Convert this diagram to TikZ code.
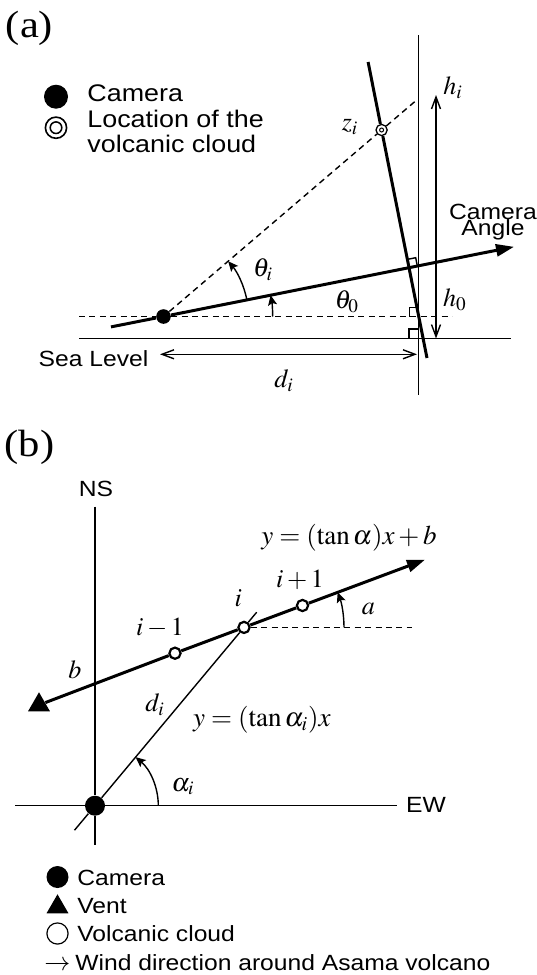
\documentclass[tikz,border=0pt]{standalone}
\usepackage{mathptmx}
\usepackage[no-math]{fontspec}
\setsansfont{Liberation Sans}[FakeStretch=1.12]
\newfontfamily\tagfont{Liberation Serif}[FakeStretch=1.12]
\usetikzlibrary{arrows.meta,shapes.geometric}
\tikzset{
  lbl/.style={font=\sffamily\fontsize{11}{13}\selectfont,inner sep=0pt},
  mth/.style={font=\fontsize{13}{15}\selectfont,inner sep=0pt},
  eqn/.style={font=\fontsize{13.5}{15}\selectfont,inner sep=0pt},
  tag/.style={font=\tagfont\fontsize{19}{21}\selectfont,inner sep=0pt},
  heavy/.style={line width=1.5pt},
  fine/.style={line width=0.7pt},
  dashln/.style={fine,dash pattern=on 3pt off 2.2pt},
  dimarr/.style={fine,{Straight Barb[length=6pt,width=4.5pt]}-{Straight Barb[length=6pt,width=4.5pt]}},
  angarr/.style={fine,-{Stealth[length=5pt,width=4.5pt,inset=1pt]}},
  dirarr/.style={heavy,-{Triangle[length=9pt,width=6pt]}},
  camdot/.style={circle,fill,inner sep=0pt,minimum size=#1},
  camdot/.default=7pt,
  cloud/.style={circle,draw,fill=white,line width=1.1pt,inner sep=0pt,minimum size=5.6pt},
  ring/.style={circle,draw,fill=white,inner sep=0pt},
  vent/.style={regular polygon,regular polygon sides=3,fill,inner sep=0pt,minimum size=12.7pt}
}
\begin{document}
\begin{tikzpicture}[x=0.5pt,y=-0.5pt]
  \useasboundingbox (0,0) rectangle (536,975);
  % (a) side view
  \node[tag] (ta) at (29.5,28) {(a)};
  \node[camdot=12pt] (ka) at (56,96.7) {};
  \node[lbl,anchor=base west,font=\sffamily\fontsize{12}{12.5}\selectfont] (kat) at (87,101.7) {Camera};
  \node[ring,line width=0.8pt,minimum size=10.6pt] (kb) at (56,127.7) {};
  \draw[line width=0.75pt] (kb) circle[radius=2.9pt];
  \node[lbl,anchor=west,align=left,font=\sffamily\fontsize{12}{12.5}\selectfont] (kbt) at (87,131.5) {Location of the\\volcanic cloud};

  \coordinate (vt) at (418.3,35);  \coordinate (vb) at (418.3,395);
  \coordinate (hl) at (79,316.5);  \coordinate (hr) at (452,316.5);
  \coordinate (sl) at (79,338.5);  \coordinate (sr) at (511,338.5);
  \coordinate (cl) at (111,326.9); \coordinate (cr) at (514,246.8);
  \coordinate (pt) at (368.1,62);  \coordinate (pb) at (427,358);
  \coordinate (de) at (417.5,99.3);
  \coordinate (ht) at (436,95);    \coordinate (hb) at (436,338.5);
  \coordinate (dl) at (160,354.3); \coordinate (dr) at (417,354.3);
  \node[camdot=7.3pt] (cam) at (163.5,316.5) {};
  \node[ring,line width=0.65pt,minimum size=5.6pt] (zi) at (381.6,130) {};
  \draw[line width=0.5pt] (zi) circle[radius=1pt];

  \draw[fine] (vt) -- (vb);
  \draw[fine] (sl) -- (sr);
  \draw[dashln] (hl) -- (cam) -- (hr);
  \draw[dashln] (cam) -- (zi) -- (de);
  \draw[dirarr] (cl) -- (cam) -- (cr);
  \draw[heavy] (pt) -- (zi) -- (pb);
  \draw[dimarr] (ht) -- (hb);
  \draw[dimarr] (dl) -- (dr);
  % right angles
  \draw[fine] (409.3,316.5) |- (418.3,307.5);
  \draw[fine] (408.8,338.5) |- (418.3,329);
  \draw[fine] (417.3,266.0) -- (415.7,257.7) -- (407.3,259.4);
  % angles
  \draw[angarr] (272.7,316.5) arc[start angle=0,end angle=-11.25,radius=109.2];
  \draw[angarr] (246.9,299.9) arc[start angle=-11.25,end angle=-40.5,radius=85];

  \node[mth] (thi) at (263,270) {$\theta_i$};
  \node[mth] (th0) at (347,301.7) {$\theta_0$};
  \node[mth] (zl) at (350,126.7) {$z_i$};
  \node[mth] (hil) at (453,88) {$h_i$};
  \node[mth] (h0l) at (455,300) {$h_0$};
  \node[mth] (dil) at (284,381) {$d_i$};
  \node[lbl] (sea) at (93.5,358.3) {Sea Level};
  \node[lbl,align=center,font=\sffamily\fontsize{11}{8.4}\selectfont] (cang) at (493,222) {Camera\\Angle};

  % (b) plan view
  \node[tag] (tb) at (29.5,447.5) {(b)};
  \node[lbl] (ns) at (96,489) {NS};
  \node[lbl] (ew) at (426,805) {EW};
  \coordinate (nt) at (95,506.7); \coordinate (nb) at (95,845);
  \coordinate (el) at (15,805.7); \coordinate (er) at (396.7,805.7);
  \coordinate (lo) at (74.5,830.2); \coordinate (hi) at (256.7,612.2);
  \coordinate (tip) at (425,559.7); \coordinate (dsh) at (411.7,627.4);
  \node[camdot=10pt] (org) at (95,805.7) {};
  \node[vent] (vnt) at (39,705) {};
  \node[cloud] (c1) at (175,653.2) {};
  \node[cloud] (ci) at (244,627.4) {};
  \node[cloud] (c2) at (302.5,605.5) {};

  \draw[fine] (nt) -- (org) -- (nb);
  \draw[fine] (el) -- (org) -- (er);
  \draw[fine] (lo) -- (org) -- (ci) -- (hi);
  \draw[dashln] (ci) -- (dsh);
  \draw[dirarr] (vnt) -- (c1) -- (ci) -- (c2) -- (tip);
  \draw[angarr] (344,627.4) arc[start angle=0,end angle=-20.5,radius=100];
  \draw[angarr] (158.3,805.7) arc[start angle=0,end angle=-50.1,radius=63.3];

  \node[eqn] (eq1) at (349,538) {$y=(\tan\alpha)x+b$};
  \node[eqn] (eq2) at (262,720) {$y=(\tan\alpha_i)x$};
  \node[mth] (bl) at (75,670) {$b$};
  \node[mth] (dil2) at (155,705) {$d_i$};
  \node[mth] (im) at (160,627.5) {$i-1$};
  \node[mth] (i0) at (238.3,598.3) {$i$};
  \node[mth] (ip) at (300,580) {$i+1$};
  \node[mth] (al) at (368.3,609) {$a$};
  \node[mth] (ali) at (183,786.7) {$\alpha_i$};

  % legend (b)
  \node[camdot=11pt] (kc) at (57.5,877) {};
  \node[lbl,anchor=base west] (kct) at (77,885) {Camera};
  \node[vent] (kv) at (57.5,907) {};
  \node[lbl,anchor=base west] (kvt) at (77,913) {Vent};
  \node[ring,line width=0.6pt,minimum size=10.6pt] (kw) at (57.5,933.5) {};
  \node[lbl,anchor=base west] (kwt) at (77,941.5) {Volcanic cloud};
  \node[lbl,anchor=base west] (kdt) at (44,970) {{\fontsize{13}{13}\selectfont$\rightarrow$}\hspace{2.5pt}Wind direction around Asama volcano};
\end{tikzpicture}
\end{document}
